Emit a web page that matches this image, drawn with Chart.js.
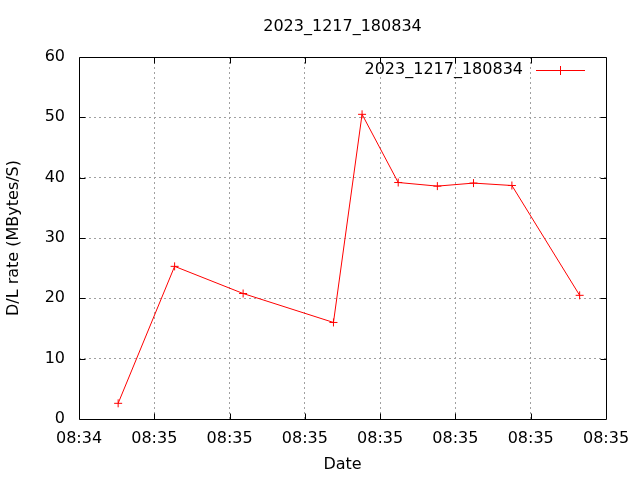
<!DOCTYPE html>
<html>
<head>
<meta charset="utf-8">
<script src="https://cdn.jsdelivr.net/npm/chart.js@4/dist/chart.umd.min.js"></script>
<style>
  html, body { margin: 0; padding: 0; background: #fff; }
  #c { display: block; }
</style>
</head>
<body>
<canvas id="c" width="640" height="480"></canvas>
<script>
const chartTitle = '2023_1217_180834';
const seriesName = '2023_1217_180834';
const xLabel = 'Date';
const yLabel = 'D/L rate (MBytes/S)';
const tickLabels = ['08:34', '08:35', '08:35', '08:35', '08:35', '08:35', '08:35', '08:35'];
const xPositions = [0.52, 1.27, 2.18, 3.38, 3.76, 4.24, 4.76, 5.24, 5.75, 6.65];
const rates = [2.6, 25.3, 20.8, 16.0, 50.5, 39.2, 38.6, 39.1, 38.7, 20.5];

const FONT = 'DejaVu Sans';
const FS = 16;

const points = xPositions.map((x, i) => ({ x: x, y: rates[i] }));

const framePlugin = {
  id: 'frame',
  afterDraw(chart) {
    const ctx = chart.ctx;
    const a = chart.chartArea;
    const xs = chart.scales.x, ys = chart.scales.y;
    ctx.save();
    ctx.strokeStyle = '#000';
    ctx.lineWidth = 1;
    ctx.setLineDash([]);
    const L = Math.round(a.left) + 0.5, R = Math.round(a.right) + 0.5;
    const T = Math.round(a.top) + 0.5, B = Math.round(a.bottom) + 0.5;
    ctx.beginPath();
    ctx.rect(L, T, R - L, B - T);
    ctx.stroke();
    const tl = 6;
    ctx.beginPath();
    for (let v = 1; v < tickLabels.length - 1; v++) {
      const px = Math.round(xs.getPixelForValue(v)) + 0.5;
      ctx.moveTo(px, B); ctx.lineTo(px, B - tl);
      ctx.moveTo(px, T); ctx.lineTo(px, T + tl);
    }
    for (let v = 10; v < 60; v += 10) {
      const py = Math.round(ys.getPixelForValue(v)) + 0.5;
      ctx.moveTo(L, py); ctx.lineTo(L + tl, py);
      ctx.moveTo(R, py); ctx.lineTo(R - tl, py);
    }
    ctx.stroke();

    ctx.fillStyle = '#000';
    ctx.font = FS + 'px "' + FONT + '"';
    ctx.textBaseline = 'middle';
    // title
    ctx.textAlign = 'center';
    ctx.fillText(chartTitle, (a.left + a.right) / 2, 27);
    // x axis title
    ctx.fillText(xLabel, (a.left + a.right) / 2, 465);
    // y axis title
    ctx.save();
    ctx.translate(14, (a.top + a.bottom) / 2);
    ctx.rotate(-Math.PI / 2);
    ctx.fillText(yLabel, 0, 0);
    ctx.restore();
    // legend
    const ly = 70;
    ctx.textAlign = 'right';
    ctx.fillText(seriesName, 523, ly);
    ctx.strokeStyle = '#ff0000';
    ctx.beginPath();
    ctx.moveTo(536, ly + 0.5); ctx.lineTo(585, ly + 0.5);
    ctx.moveTo(560.5, ly - 4); ctx.lineTo(560.5, ly + 5);
    ctx.stroke();
    ctx.restore();
  }
};

new Chart(document.getElementById('c'), {
  type: 'line',
  data: {
    datasets: [{
      label: seriesName,
      data: points,
      borderColor: '#ff0000',
      backgroundColor: '#ff0000',
      borderWidth: 1,
      pointStyle: 'cross',
      pointRadius: 4,
      pointBorderWidth: 1,
      pointHoverRadius: 4,
      tension: 0,
      fill: false
    }]
  },
  options: {
    responsive: false,
    animation: false,
    devicePixelRatio: 1,
    events: [],
    layout: { padding: { left: 0, top: 57, right: 34, bottom: 0 } },
    plugins: {
      legend: { display: false },
      title: { display: false },
      tooltip: { enabled: false }
    },
    scales: {
      x: {
        type: 'linear',
        min: 0,
        max: 7,
        afterFit(s) { s.height = 61; },
        afterBuildTicks(s) { s.ticks = tickLabels.map((_, i) => ({ value: i })); },
        ticks: {
          stepSize: 1,
          autoSkip: false,
          maxRotation: 0,
          padding: 10,
          color: '#000',
          font: { family: FONT, size: FS },
          callback: (v) => tickLabels[v]
        },
        grid: { color: '#a0a0a0', lineWidth: 1, drawTicks: false },
        border: { display: false, dash: [2, 3] }
      },
      y: {
        type: 'linear',
        min: 0,
        max: 60,
        afterFit(s) { s.width = 79; },
        ticks: {
          stepSize: 10,
          padding: 14,
          color: '#000',
          font: { family: FONT, size: FS }
        },
        grid: { color: '#a0a0a0', lineWidth: 1, drawTicks: false },
        border: { display: false, dash: [2, 3] }
      }
    }
  },
  plugins: [framePlugin]
});
</script>
</body>
</html>
